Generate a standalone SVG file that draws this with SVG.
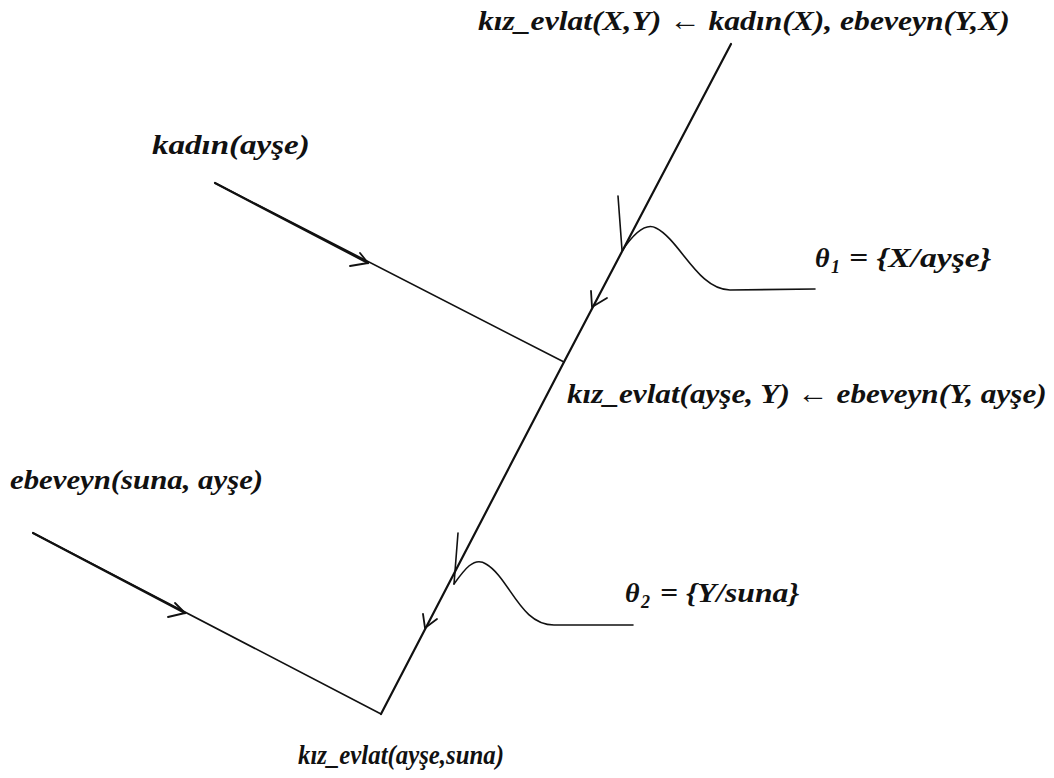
<svg xmlns="http://www.w3.org/2000/svg" width="1054" height="778" viewBox="0 0 1054 778">
<style>
.t{font-family:"Liberation Serif","DejaVu Serif",serif;font-weight:bold;font-style:italic;font-size:28px;fill:#111}
.sub{font-size:18px}
.ln{fill:none;stroke:#111;stroke-linecap:round;stroke-linejoin:round}
.main{stroke-width:2.2}
.br{stroke-width:1.6}
.hd{stroke-width:1.8}
</style>
<rect width="1054" height="778" fill="#fff"/>
<g id="connectors">
  <path class="ln main" d="M731,44 L564,362 L381,714"/>
  <path class="ln br" d="M215,183 L564,362"/>
  <path class="ln main" d="M215,183 L368,263"/>
  <path class="ln hd" d="M350,266 L368,263 L360,253"/>
  <path class="ln br" d="M33,533 L381,714"/>
  <path class="ln main" d="M33,533 L185,613"/>
  <path class="ln hd" d="M168,617 L185,613 L175,603"/>
  <path class="ln hd" d="M591,291 L592,307 L607,298"/>
  <path class="ln hd" d="M423,614 L425,628 L437,619"/>
  <path class="ln br" d="M618,196 L622,250"/>
  <path class="ln br" d="M458,533 L454,584"/>
</g>
<g id="theta1-curve"><path class="ln br" d="M622,251 C632,236 645,222 656,228 C680,240 698,290 730,290 L815,289"/></g>
<g id="theta2-curve"><path class="ln br" d="M454,584 C464,570 474,556 486,564 C510,578 520,626 555,625 L633,625"/></g>
<g id="n-rule"><text class="t" transform="translate(478,30) scale(1.128,1)">kız_evlat(X,Y) ← kadın(X), ebeveyn(Y,X)</text></g>
<g id="n-kadin"><text class="t" transform="translate(152,154) scale(1.18,1)">kadın(ayşe)</text></g>
<g id="n-theta1"><text class="t" x="815" y="267">θ</text><text class="t sub" x="831" y="273">1</text><text class="t" transform="translate(849,267) scale(1.2,1)">= {X/ayşe}</text></g>
<g id="n-resolvent"><text class="t" transform="translate(567,403) scale(1.114,1)">kız_evlat(ayşe, Y) ← ebeveyn(Y, ayşe)</text></g>
<g id="n-ebeveyn"><text class="t" transform="translate(10,489) scale(1.1,1)">ebeveyn(suna, ayşe)</text></g>
<g id="n-theta2"><text class="t" x="625" y="602">θ</text><text class="t sub" x="641" y="608">2</text><text class="t" transform="translate(660,602) scale(1.13,1)">= {Y/suna}</text></g>
<g id="n-result"><text class="t" transform="translate(298,764) scale(0.886,1)">kız_evlat(ayşe,suna)</text></g>
</svg>
